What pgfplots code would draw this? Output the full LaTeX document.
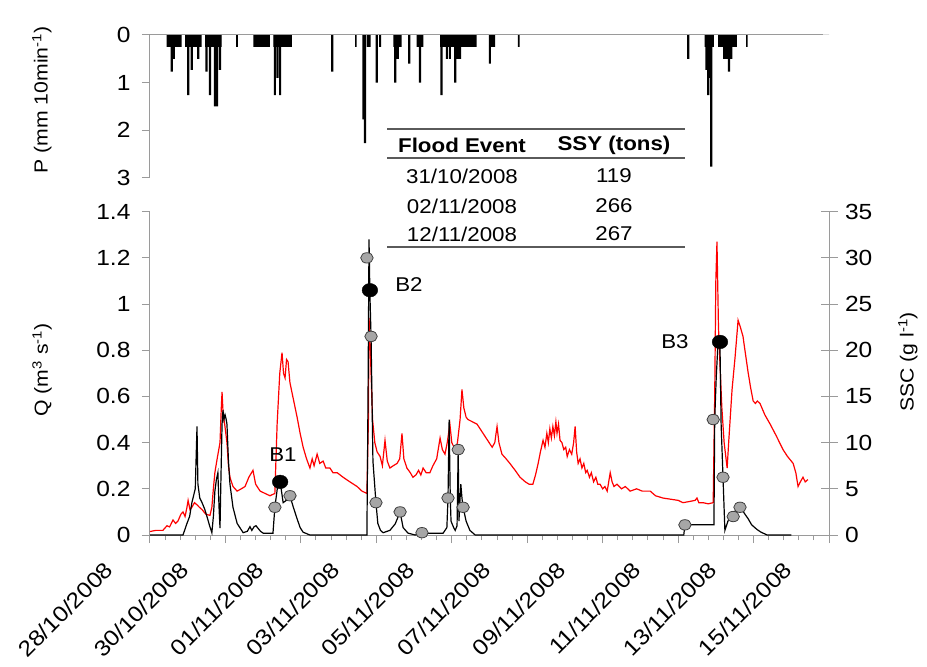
\documentclass[border=0pt]{standalone}
\usepackage{fontspec}
\setmainfont{Liberation Sans}[FakeStretch=1.12]
\usepackage{pgfplots}
\pgfplotsset{compat=1.18}
\definecolor{axgray}{HTML}{9A9A9A}
\definecolor{dotgray}{HTML}{A6A6A6}
\definecolor{rulegray}{HTML}{5A5A5A}
\begin{document}
\begin{tikzpicture}[x=1bp,y=1bp]
\useasboundingbox (-150bp,-132bp) rectangle (777bp,535bp);
\pgfplotsset{
 every axis/.append style={
  scale only axis, width=679bp, xmin=0, xmax=18, clip=false,
  /pgf/number format/assume math mode=true,
  tick label style={font=\fontsize{22}{24}\selectfont, black},
  axis line style={-, axgray, line width=1bp},
  tick style={axgray, line width=1bp},
 }
}
% ---------------- precipitation ----------------
\begin{axis}[at={(0bp,500bp)}, anchor=north west, height=143bp,
  y dir=reverse, ymin=0, ymax=3, ytick={0,1,2,3},
  yticklabel style={xshift=-8bp},
  axis y line*=left, hide x axis, tick align=outside, major tick length=8bp]
\addplot[const plot, fill=black, draw=none] coordinates {
 (0,0)(0.44,0.25)(0.84,0)(0.93,0.25)(1.37,0)(1.46,0.25)(1.90,0)(2.28,0.25)(2.33,0)
 (2.74,0.25)(3.18,0)(3.27,0.25)(3.76,0)(5.44,0.25)(5.48,0)(6.45,0.25)(6.67,0)
 (7.07,0.25)(7.25,0)(7.69,0.25)(8.66,0)(9.0,0.25)(9.15,0)(9.75,0.25)(9.80,0)
 (14.70,0.25)(14.95,0)(15.06,0.25)(15.56,0)(15.80,0.25)(15.84,0)(18,0)} \closedcycle;
\addplot[ybar, bar width=2.2bp, fill=black, draw=none] coordinates {
 (0.575,0.77)(0.63,0.5)(1.015,1.26)(1.105,0.73)(1.28,0.5)(1.50,0.77)(1.59,1.26)
 (1.72,1.5)(1.78,1.5)(1.856,0.73)(3.31,1.26)(3.38,0.9)(3.45,1.26)(4.83,0.77)
 (5.66,1.77)(5.70,2.27)(5.78,0.25)(5.82,0.25)(6.01,1.0)(6.10,0.25)(6.50,1.0)(6.57,0.5)
 (6.87,0.6)(7.16,1.0)(7.73,1.26)(7.87,0.5)(7.95,0.5)(8.09,1.0)(8.16,0.5)(8.22,0.5)
 (9.01,0.6)(14.27,0.5)(14.75,0.73)(14.80,1.26)(14.85,0.9)(14.88,2.76)
 (15.22,0.5)(15.28,0.5)(15.35,0.77)(15.41,0.5)};
\draw[axgray, line width=1bp] (0,0) -- (17.85,0);
\end{axis}
% ---------------- discharge Q ----------------
\begin{axis}[at={(0bp,0bp)}, anchor=south west, height=323.3bp,
  ymin=0, ymax=1.4, ytick={0,0.2,0.4,0.6,0.8,1,1.2,1.4},
  yticklabel style={xshift=-8bp, /pgf/number format/fixed, /pgf/number format/precision=1},
  axis x line*=bottom, axis y line*=left, tick align=outside,
  major tick length=8bp, minor tick length=5bp,
  xtick={0,2,...,18}, minor x tick num=4,
  xticklabels={28/10/2008,30/10/2008,01/11/2008,03/11/2008,05/11/2008,07/11/2008,09/11/2008,11/11/2008,13/11/2008,15/11/2008},
  xticklabel style={xshift=-38.6bp, yshift=-20.6bp, rotate=45, anchor=east, font=\fontsize{22}{26}\selectfont}]
\addplot[red, line width=1.2bp] coordinates {
(0,0.015)(0.15,0.02)(0.34,0.02)(0.45,0.04)(0.52,0.035)(0.61,0.065)(0.68,0.05)(0.74,0.06)(0.82,0.09)(0.875,0.10)(0.93,0.08)(0.98,0.12)(1.01,0.15)(1.06,0.11)(1.11,0.12)(1.18,0.14)(1.25,0.13)(1.31,0.12)(1.38,0.11)(1.48,0.09)(1.59,0.085)(1.64,0.12)(1.68,0.2)(1.72,0.27)(1.78,0.33)(1.856,0.40)(1.89,0.55)(1.91,0.62)(1.94,0.52)(1.98,0.48)(2.04,0.40)(2.08,0.30)(2.12,0.25)(2.2,0.21)(2.31,0.19)(2.42,0.2)(2.52,0.21)(2.62,0.25)(2.73,0.28)(2.8,0.22)(2.92,0.19)(3.05,0.18)(3.18,0.17)(3.31,0.18)(3.37,0.48)(3.44,0.70)(3.50,0.79)(3.54,0.70)(3.58,0.68)(3.62,0.76)(3.66,0.75)(3.71,0.66)(3.76,0.62)(3.90,0.51)(3.98,0.44)(4.06,0.38)(4.15,0.33)(4.24,0.29)(4.3,0.33)(4.35,0.30)(4.43,0.35)(4.5,0.31)(4.59,0.32)(4.66,0.29)(4.77,0.29)(4.85,0.27)(4.96,0.27)(5.12,0.25)(5.30,0.23)(5.49,0.21)(5.62,0.19)(5.75,0.18)(5.79,0.5)(5.806,0.94)(5.83,0.86)(5.86,0.70)(5.9,0.5)(5.96,0.40)(6.02,0.36)(6.10,0.34)(6.16,0.30)(6.23,0.41)(6.29,0.32)(6.36,0.29)(6.45,0.30)(6.55,0.31)(6.62,0.33)(6.68,0.44)(6.73,0.33)(6.81,0.29)(6.9,0.27)(6.97,0.25)(7.05,0.26)(7.12,0.28)(7.18,0.26)(7.24,0.29)(7.32,0.27)(7.42,0.27)(7.5,0.30)(7.6,0.33)(7.69,0.42)(7.75,0.37)(7.82,0.35)(7.88,0.40)(7.95,0.48)(8.0,0.40)(8.09,0.37)(8.15,0.40)(8.22,0.50)(8.27,0.63)(8.32,0.55)(8.38,0.51)(8.43,0.50)(8.55,0.49)(8.67,0.48)(8.75,0.46)(8.83,0.44)(8.95,0.41)(9.07,0.38)(9.14,0.40)(9.20,0.47)(9.25,0.40)(9.33,0.35)(9.44,0.33)(9.54,0.31)(9.68,0.28)(9.81,0.25)(9.95,0.23)(10.05,0.22)(10.15,0.22)(10.22,0.26)(10.29,0.31)(10.35,0.36)(10.42,0.41)(10.47,0.38)(10.52,0.44)(10.56,0.40)(10.60,0.46)(10.64,0.42)(10.68,0.47)(10.72,0.43)(10.76,0.49)(10.79,0.44)(10.83,0.48)(10.87,0.41)(10.92,0.40)(10.97,0.37)(11.02,0.38)(11.06,0.34)(11.12,0.37)(11.18,0.35)(11.23,0.40)(11.27,0.47)(11.31,0.36)(11.35,0.31)(11.4,0.33)(11.45,0.29)(11.5,0.31)(11.55,0.27)(11.59,0.28)(11.65,0.25)(11.7,0.27)(11.76,0.23)(11.82,0.25)(11.87,0.22)(11.93,0.22)(12.0,0.2)(12.06,0.21)(12.12,0.19)(12.20,0.27)(12.25,0.23)(12.3,0.21)(12.38,0.22)(12.5,0.2)(12.6,0.21)(12.73,0.19)(12.9,0.2)(13.05,0.19)(13.26,0.19)(13.4,0.17)(13.6,0.16)(13.8,0.155)(14.0,0.15)(14.13,0.14)(14.3,0.145)(14.45,0.15)(14.50,0.16)(14.55,0.14)(14.66,0.14)(14.8,0.135)(14.93,0.14)(14.97,0.6)(15.0,1.1)(15.03,1.27)(15.07,0.9)(15.12,0.7)(15.16,0.55)(15.22,0.40)(15.30,0.29)(15.34,0.4)(15.43,0.63)(15.51,0.77)(15.55,0.85)(15.59,0.93)(15.65,0.90)(15.72,0.86)(15.78,0.79)(15.85,0.71)(15.92,0.64)(15.99,0.58)(16.05,0.57)(16.1,0.58)(16.17,0.57)(16.3,0.52)(16.44,0.48)(16.6,0.43)(16.78,0.37)(16.9,0.34)(17.05,0.31)(17.12,0.27)(17.18,0.21)(17.24,0.23)(17.31,0.25)(17.37,0.23)(17.44,0.24)};
\end{axis}
% ---------------- SSC ----------------
\begin{axis}[at={(0bp,0bp)}, anchor=south west, height=323.3bp,
  ymin=0, ymax=35, ytick={0,5,...,35},
  yticklabel style={xshift=4bp},
  axis y line*=right, hide x axis, tick align=center, major tick length=17bp]
\addplot[black, line width=1.2bp] coordinates {
(0,0)(0.875,0)(0.98,1.25)(1.05,2.0)(1.11,3.5)(1.2,5.0)(1.246,11.75)(1.27,5.5)(1.32,4.0)(1.38,3.5)(1.45,2.8)(1.51,2.0)(1.58,1.0)(1.64,0.25)(1.68,2.0)(1.72,4.75)(1.76,6.0)(1.80,6.75)(1.83,3.0)(1.856,0.75)(1.88,6)(1.91,12)(1.935,13.5)(1.96,12.5)(1.99,13.0)(2.02,12.5)(2.04,12)(2.08,8)(2.12,5.5)(2.2,3.0)(2.31,1.25)(2.47,0.25)(2.58,0.4)(2.65,0.9)(2.7,0.5)(2.76,0.9)(2.81,1.0)(2.86,0.75)(2.93,0.4)(3.0,0.2)(3.26,0.2)(3.31,3.0)(3.39,5.5)(3.45,5.75)(3.53,3.5)(3.63,3.8)(3.71,4.25)(3.8,3.0)(3.90,1.75)(3.98,0.8)(4.06,0.3)(4.24,0)(5.75,0)(5.78,15)(5.806,32)(5.83,26)(5.86,21.5)(5.91,8)(5.99,3.5)(6.04,1.25)(6.11,0.5)(6.18,0.25)(6.36,0.5)(6.5,1.2)(6.58,2.0)(6.63,2.5)(6.71,0.8)(6.84,0.2)(7.03,0)(7.21,0.2)(7.77,0.2)(7.87,0.8)(7.90,4.0)(7.93,12.5)(7.96,4)(7.98,1.5)(8.05,0.8)(8.09,0.5)(8.14,1.0)(8.17,9.25)(8.19,1.5)(8.22,4)(8.24,5.5)(8.27,4.0)(8.30,3.0)(8.38,1.5)(8.48,0.5)(8.62,0)(14.15,0)(14.18,1.1)(14.95,1.1)(14.97,12.5)(15.01,17)(15.06,21)(15.11,20.5)(15.14,12)(15.19,6.25)(15.24,0.5)(15.28,1.0)(15.32,1.5)(15.4,1.8)(15.46,2.0)(15.53,2.8)(15.59,3.2)(15.64,3.0)(15.70,2.7)(15.78,2.2)(15.85,1.8)(15.95,1.1)(16.09,0.6)(16.2,0.3)(16.36,0)(17,0)};
\addplot[only marks, mark=*, mark size=5.2bp, mark options={fill=dotgray, draw=black!75, line width=0.8bp, xscale=1.2}] coordinates {
(3.31,3.0)(3.71,4.25)(5.75,30)(5.86,21.5)(5.99,3.5)(6.63,2.5)(7.21,0.25)(7.90,4.0)(8.17,9.25)(8.30,3.0)(14.18,1.1)(14.93,12.5)(15.19,6.25)(15.46,2.0)(15.64,3.0)};
\addplot[only marks, mark=*, mark size=6.8bp, mark options={fill=black, draw=black, xscale=1.15}] coordinates {
(3.45,5.75)(5.83,26.5)(15.11,20.9)};
\end{axis}
% ---------------- labels ----------------
\node[font=\fontsize{20}{24}\selectfont] at (133bp,80bp) {B1};
\node[font=\fontsize{20}{24}\selectfont] at (259bp,250bp) {B2};
\node[font=\fontsize{20}{24}\selectfont] at (525bp,193bp) {B3};
\node[rotate=90, font=\fontsize{19}{24}\selectfont] at (-108bp,435bp) {P (mm 10min\textsuperscript{-1})};
\node[rotate=90, font=\fontsize{19}{24}\selectfont] at (-108bp,165bp) {Q (m\textsuperscript{3} s\textsuperscript{-1})};
\node[rotate=90, font=\fontsize{19}{24}\selectfont] at (758bp,173bp) {SSC (g l\textsuperscript{-1})};
% ---------------- table ----------------
\draw[rulegray, line width=1.6bp] (237bp,406bp) -- (535bp,406bp);
\draw[rulegray, line width=1.6bp] (237bp,377bp) -- (535bp,377bp);
\draw[rulegray, line width=1.6bp] (237bp,288bp) -- (535bp,288bp);
\node[font=\fontsize{20}{24}\selectfont\bfseries] at (312bp,390bp) {Flood Event};
\node[font=\fontsize{20}{24}\selectfont\bfseries] at (464bp,390bp) {SSY (tons)};
\node[font=\fontsize{20}{24}\selectfont] at (312bp,359bp) {31/10/2008};
\node[font=\fontsize{20}{24}\selectfont] at (464bp,359bp) {119};
\node[font=\fontsize{20}{24}\selectfont] at (312bp,329bp) {02/11/2008};
\node[font=\fontsize{20}{24}\selectfont] at (464bp,329bp) {266};
\node[font=\fontsize{20}{24}\selectfont] at (312bp,301bp) {12/11/2008};
\node[font=\fontsize{20}{24}\selectfont] at (464bp,301bp) {267};
\end{tikzpicture}
\end{document}
